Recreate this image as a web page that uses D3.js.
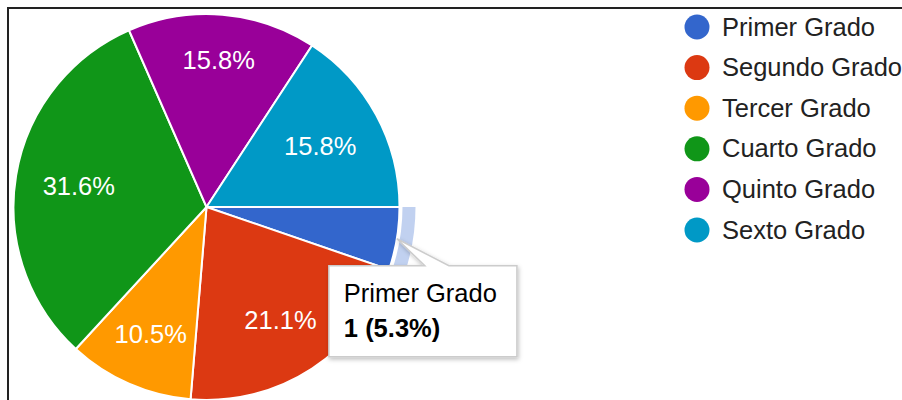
<!DOCTYPE html>
<html>
<head>
<meta charset="utf-8">
<script src="https://cdn.jsdelivr.net/npm/d3@7"></script>
<style>
  body { margin: 0; background: #fff; }
  svg { display: block; font-family: Arial, "Liberation Sans", sans-serif; }
</style>
</head>
<body>
<div id="chart"></div>
<script>
// datos del grafico
const categories = ["Primer Grado", "Segundo Grado", "Tercer Grado", "Cuarto Grado", "Quinto Grado", "Sexto Grado"];
const values = [1, 4, 2, 6, 3, 3];
const colors = ["#3366cc", "#dc3912", "#ff9900", "#109618", "#990099", "#0099c6"];
const highlighted = "Primer Grado";

const width = 902, height = 400;
const cx = 206.5, cy = 207, radius = 193;
const fontSize = 25.5;

const svg = d3.select("#chart")
  .append("svg")
  .attr("width", width)
  .attr("height", height);

// sombra del tooltip
svg.append("defs")
  .append("filter")
  .attr("id", "shadow")
  .attr("x", "-20%").attr("y", "-20%").attr("width", "140%").attr("height", "150%")
  .append("feDropShadow")
  .attr("dx", 1).attr("dy", 2).attr("stdDeviation", 2)
  .attr("flood-color", "#000").attr("flood-opacity", 0.25);

// borde
svg.append("rect")
  .attr("x", 8).attr("y", 8)
  .attr("width", width).attr("height", height)
  .attr("fill", "none")
  .attr("stroke", "#222")
  .attr("stroke-width", 2);

const total = d3.sum(values);
const data = categories.map((c, i) => ({ name: c, value: values[i], color: colors[i] }));

const pie = d3.pie()
  .value((d) => d.value)
  .sort(null)
  .startAngle(Math.PI / 2)
  .endAngle(Math.PI / 2 + 2 * Math.PI);
const arcs = pie(data);
const arc = d3.arc().innerRadius(0).outerRadius(radius);
const pct = d3.format(".1%");

const g = svg.append("g").attr("transform", `translate(${cx},${cy})`);

// anillo de la porcion seleccionada
const hi = arcs.find((d) => d.data.name === highlighted);
g.append("path")
  .attr("d", d3.arc().innerRadius(radius + 3).outerRadius(radius + 16)(hi))
  .attr("fill", hi.data.color)
  .attr("fill-opacity", 0.3);

g.selectAll("path.slice")
  .data(arcs)
  .join("path")
  .attr("class", "slice")
  .attr("d", arc)
  .attr("fill", (d) => d.data.color)
  .attr("stroke", "#fff")
  .attr("stroke-width", 2);

// etiquetas de porcentaje (la esquina mas lejana de la caja queda a un radio fijo)
const labelReach = radius * 0.867;
const labels = g.selectAll("text.pct")
  .data(arcs.filter((d) => d.value / total > 0.08))
  .join("text")
  .attr("class", "pct")
  .attr("fill", "#fff")
  .attr("font-size", fontSize)
  .attr("text-anchor", "middle")
  .text((d) => pct(d.value / total));

labels.each(function (d) {
  const w = this.getComputedTextLength();
  const h = fontSize;
  const a = (d.startAngle + d.endAngle) / 2;
  const far = (t) => Math.hypot(Math.abs(t * Math.sin(a)) + w / 2, Math.abs(t * Math.cos(a)) + h / 2);
  let lo = 0, up = radius;
  for (let k = 0; k < 40; k++) {
    const mid = (lo + up) / 2;
    if (far(mid) < labelReach) lo = mid; else up = mid;
  }
  d3.select(this)
    .attr("x", lo * Math.sin(a))
    .attr("y", -lo * Math.cos(a) + fontSize * 0.36);
});

// leyenda
const legend = svg.append("g").attr("transform", "translate(697, 27)");
const items = legend.selectAll("g")
  .data(data)
  .join("g")
  .attr("transform", (d, i) => `translate(0, ${i * 40.6})`);
items.append("circle").attr("r", 12.5).attr("fill", (d) => d.color);
items.append("text")
  .attr("x", 25)
  .attr("y", 8.5)
  .attr("font-size", fontSize)
  .attr("fill", "#222")
  .text((d) => d.name);

// tooltip
const midA = (hi.startAngle + hi.endAngle) / 2;
const tipX = cx + radius * Math.sin(midA);
const tipY = cy - radius * Math.cos(midA);
const boxL = tipX - 68, boxT = tipY + 27, boxH = 91;

const tip = svg.append("g");
const t1 = tip.append("text")
  .attr("x", boxL + 15).attr("y", boxT + 36)
  .attr("font-size", fontSize).attr("fill", "#000")
  .text(hi.data.name);
const t2 = tip.append("text")
  .attr("x", boxL + 15).attr("y", boxT + 71)
  .attr("font-size", fontSize).attr("font-weight", "bold").attr("fill", "#000")
  .text(`${hi.data.value} (${pct(hi.data.value / total)})`);
const boxW = Math.max(t1.node().getComputedTextLength(), t2.node().getComputedTextLength()) + 35;
const boxR = boxL + boxW, boxB = boxT + boxH;

tip.insert("path", "text")
  .attr("d", `M${boxL},${boxT}L${tipX + 28},${boxT}L${tipX},${tipY}L${tipX + 52},${boxT}L${boxR},${boxT}L${boxR},${boxB}L${boxL},${boxB}Z`)
  .attr("fill", "#fff")
  .attr("stroke", "#ccc")
  .attr("stroke-width", 1.5)
  .attr("filter", "url(#shadow)");
</script>
</body>
</html>
